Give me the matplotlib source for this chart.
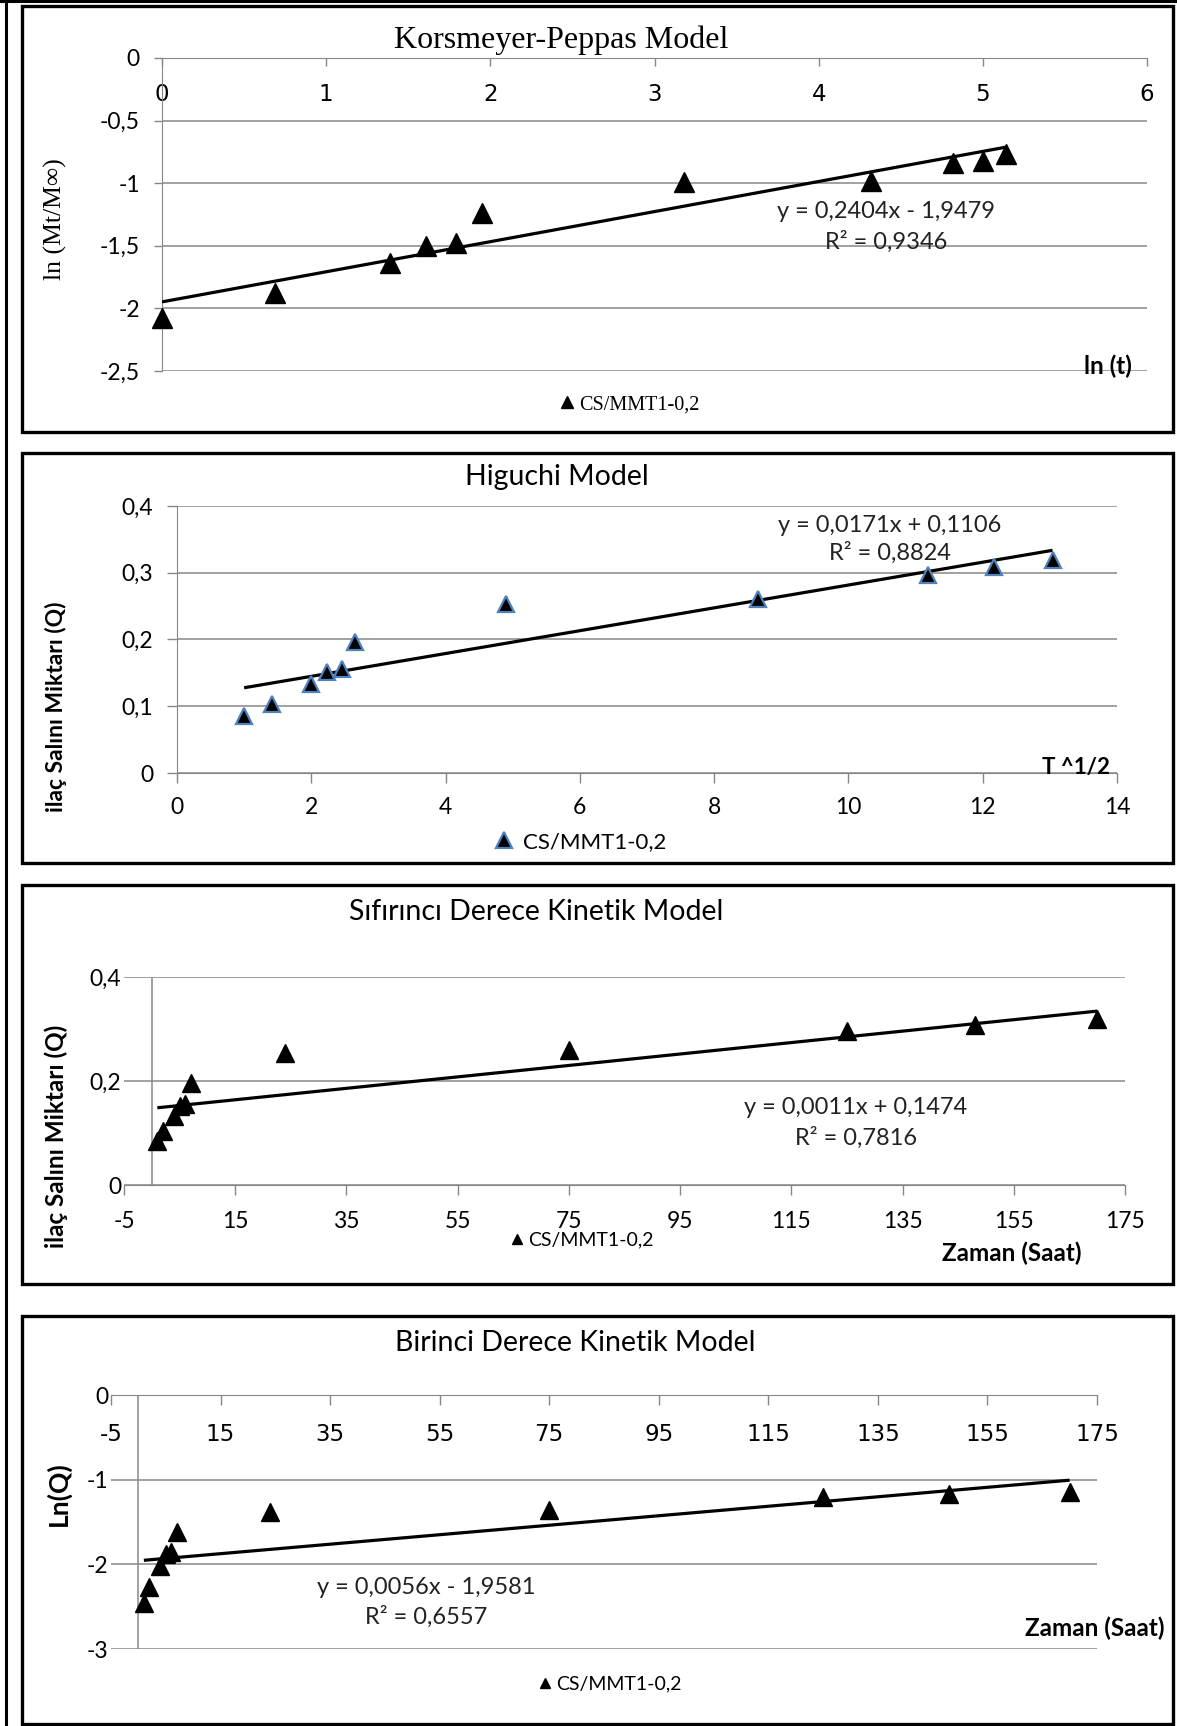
import matplotlib
matplotlib.use("Agg")
import matplotlib.pyplot as plt
from matplotlib.patches import Rectangle
from matplotlib.lines import Line2D

W, H = 1177, 1726

# ---------------- data ----------------
# Korsmeyer-Peppas: ln(t) vs ln(Mt/Minf)
ln_t = [0.0, 0.69, 1.39, 1.61, 1.79, 1.95, 3.18, 4.32, 4.82, 5.0, 5.14]
ln_mt = [-2.08, -1.88, -1.64, -1.50, -1.48, -1.24, -0.99, -0.98, -0.84, -0.82, -0.77]
kp_fit = (0.2404, -1.9479)
kp_xticks = [0, 1, 2, 3, 4, 5, 6]
kp_yticks = [0, -0.5, -1, -1.5, -2, -2.5]
kp_ylabels = ["0", "-0,5", "-1", "-1,5", "-2", "-2,5"]

# Higuchi: t^1/2 vs Q
sqrt_t = [1.0, 1.41, 2.0, 2.24, 2.45, 2.65, 4.9, 8.66, 11.18, 12.17, 13.04]
q_rel = [0.085, 0.103, 0.133, 0.152, 0.156, 0.197, 0.253, 0.260, 0.297, 0.308, 0.319]
hig_fit = (0.0171, 0.1106)
hig_xticks = [0, 2, 4, 6, 8, 10, 12, 14]
hig_yticks = [0, 0.1, 0.2, 0.3, 0.4]
hig_ylabels = ["0", "0,1", "0,2", "0,3", "0,4"]

# zero order: time (h) vs Q
time_h = [1, 2, 4, 5, 6, 7, 24, 75, 125, 148, 170]
zero_fit = (0.0011, 0.1474)
time_ticks = [-5, 15, 35, 55, 75, 95, 115, 135, 155, 175]
zero_yticks = [0, 0.2, 0.4]
zero_ylabels = ["0", "0,2", "0,4"]

# first order: time (h) vs ln(Q)
ln_q = [-2.46, -2.27, -2.02, -1.88, -1.85, -1.62, -1.38, -1.36, -1.21, -1.17, -1.14]
first_fit = (0.0056, -1.9581)
first_yticks = [0, -1, -2, -3]
first_ylabels = ["0", "-1", "-2", "-3"]

SANS = "Lato"
SERIF = "Liberation Serif"
GRID = "#878787"
BLUE = "#4F81BD"
TXT = "#222222"


def rect(x0, x1, ytop, ybot):
    return [x0 / W, 1 - ybot / H, (x1 - x0) / W, (ybot - ytop) / H]


def fx(x):
    return x / W


def fy(y):
    return 1 - y / H


def base_style(ax):
    for s in ax.spines.values():
        s.set_visible(False)
    ax.set_facecolor("none")
    ax.set_axisbelow(True)
    ax.yaxis.grid(True, color=GRID, lw=1.1)
    ax.xaxis.grid(False)
    for lab in ax.get_xticklabels() + ax.get_yticklabels():
        lab.set_fontfamily(SANS)


def trend(ax, xs, fit):
    a, b = fit
    x0, x1 = xs[0], xs[-1]
    ax.plot([x0, x1], [a * x0 + b, a * x1 + b], color="black", lw=2.3,
            solid_capstyle="butt", zorder=4)


def legend(ax, handle, x_px, y_px, size, family, ms_scale, gap=0.25):
    leg = ax.legend([handle], ["CS/MMT1-0,2"], loc="center left",
                    bbox_to_anchor=(fx(x_px), fy(y_px)),
                    bbox_transform=ax.figure.transFigure, frameon=False,
                    borderpad=0, borderaxespad=0, handlelength=0.7,
                    handletextpad=gap, markerscale=ms_scale,
                    prop={"family": family, "size": size})
    return leg


fig = plt.figure(figsize=(W / 100, H / 100), dpi=100)

# outer lines and panel frames
fig.add_artist(Line2D([fx(6), fx(6)], [fy(0), fy(H)], color="black", lw=2.2))
fig.add_artist(Line2D([fx(0), fx(W)], [fy(1.5), fy(1.5)], color="black", lw=2.2))
for top, bot in [(6, 432), (453, 863), (885, 1284), (1316, 1724)]:
    fig.add_artist(Rectangle((fx(22), fy(bot)), (1173 - 22) / W, (bot - top) / H,
                             transform=fig.transFigure, fill=False,
                             edgecolor="black", lw=2.4))

# ---------------- Korsmeyer-Peppas ----------------
ax1 = fig.add_axes(rect(162, 1147, 58, 371))
ax1.set_xlim(0, 6)
ax1.set_ylim(-2.5, 0)
ax1.set_xticks(kp_xticks)
ax1.set_xticklabels([str(v) for v in kp_xticks])
ax1.set_yticks(kp_yticks)
ax1.set_yticklabels(kp_ylabels)
base_style(ax1)
ax1.spines["left"].set_visible(True)
ax1.spines["left"].set_color(GRID)
ax1.spines["bottom"].set_visible(True)
ax1.spines["bottom"].set_color(GRID)
ax1.spines["bottom"].set_position(("data", 0))
ax1.tick_params(axis="x", direction="out", length=6, width=1, color=GRID,
                labelsize=16.5, pad=12)
ax1.tick_params(axis="y", direction="out", length=6, width=1, color=GRID,
                labelsize=16.5, pad=10)
h1, = ax1.plot(ln_t, ln_mt, "^", color="black", ms=14.5, clip_on=False, zorder=5)
trend(ax1, ln_t, kp_fit)
fig.text(fx(561), fy(40), "Korsmeyer-Peppas Model", family=SERIF, size=23,
         ha="center", va="center")
fig.text(fx(55), fy(219), "ln (Mt/M\u221e)", family=SERIF, size=18.5,
         rotation=90, ha="center", va="center")
fig.text(fx(1132), fy(374), "ln (t)", family=SANS, size=17.5, weight="bold",
         ha="right", va="baseline")
fig.text(fx(886), fy(211), "y = 0,2404x - 1,9479", family=SANS, size=17,
         ha="center", va="center", color=TXT)
fig.text(fx(886), fy(242), "R\u00b2 = 0,9346", family=SANS, size=17,
         ha="center", va="center", color=TXT)
legend(ax1, h1, 560, 405, 14.5, SERIF, 0.55)

# ---------------- Higuchi ----------------
ax2 = fig.add_axes(rect(177, 1117, 506, 773))
ax2.set_xlim(0, 14)
ax2.set_ylim(0, 0.4)
ax2.set_xticks(hig_xticks)
ax2.set_xticklabels([str(v) for v in hig_xticks])
ax2.set_yticks(hig_yticks)
ax2.set_yticklabels(hig_ylabels)
base_style(ax2)
for side in ("left", "bottom"):
    ax2.spines[side].set_visible(True)
    ax2.spines[side].set_color(GRID)
ax2.tick_params(axis="x", direction="out", length=7, width=1, color=GRID,
                labelsize=16.5, pad=10)
ax2.tick_params(axis="y", direction="out", length=7, width=1, color=GRID,
                labelsize=16.5, pad=10)
h2, = ax2.plot(sqrt_t, q_rel, "^", color="black", mec=BLUE, mew=1.6, ms=12,
               clip_on=False, zorder=5)
trend(ax2, sqrt_t, hig_fit)
fig.text(fx(557), fy(477), "Higuchi Model", family=SANS, size=20.5,
         ha="center", va="center")
fig.text(fx(56), fy(707), "ila\u00e7 Sal\u0131n\u0131 Miktar\u0131 (Q)", family=SANS,
         size=16.5, weight="bold", rotation=90, ha="center", va="center")
fig.text(fx(1110), fy(774), "T ^1/2", family=SANS, size=16, weight="bold",
         ha="right", va="baseline")
fig.text(fx(890), fy(525), "y = 0,0171x + 0,1106", family=SANS, size=17,
         ha="center", va="center", color=TXT)
fig.text(fx(890), fy(553), "R\u00b2 = 0,8824", family=SANS, size=17,
         ha="center", va="center", color=TXT)
legend(ax2, h2, 496, 842, 16, SANS, 0.95, gap=0.5)

# ---------------- zero order ----------------
ax3 = fig.add_axes(rect(124, 1125, 977, 1185))
ax3.set_xlim(-5, 175)
ax3.set_ylim(0, 0.4)
ax3.set_xticks(time_ticks)
ax3.set_xticklabels([str(v) for v in time_ticks])
ax3.set_yticks(zero_yticks)
ax3.set_yticklabels(zero_ylabels)
base_style(ax3)
ax3.spines["bottom"].set_visible(True)
ax3.spines["bottom"].set_color(GRID)
ax3.axvline(0, color=GRID, lw=1.1, zorder=1)
ax3.tick_params(axis="x", direction="out", length=7, width=1, color=GRID,
                labelsize=16.5, pad=12)
ax3.tick_params(axis="y", length=0, labelsize=16.5, pad=2)
h3, = ax3.plot(time_h, q_rel, "^", color="black", ms=13, clip_on=False, zorder=5)
trend(ax3, time_h, zero_fit)
fig.text(fx(536), fy(912), "S\u0131f\u0131r\u0131nc\u0131 Derece Kinetik Model",
         family=SANS, size=20.5, ha="center", va="center")
fig.text(fx(56), fy(1136), "ila\u00e7 Sal\u0131n\u0131 Miktar\u0131 (Q)", family=SANS,
         size=17.5, weight="bold", rotation=90, ha="center", va="center")
fig.text(fx(1012), fy(1253), "Zaman (Saat)", family=SANS, size=17.5,
         weight="bold", ha="center", va="center")
fig.text(fx(856), fy(1107), "y = 0,0011x + 0,1474", family=SANS, size=17,
         ha="center", va="center", color=TXT)
fig.text(fx(856), fy(1138), "R\u00b2 = 0,7816", family=SANS, size=17,
         ha="center", va="center", color=TXT)
legend(ax3, h3, 510, 1240, 14, SANS, 0.55)

# ---------------- first order ----------------
ax4 = fig.add_axes(rect(111, 1097, 1395, 1649))
ax4.set_xlim(-5, 175)
ax4.set_ylim(-3, 0)
ax4.set_xticks(time_ticks)
ax4.set_xticklabels([str(v) for v in time_ticks])
ax4.set_yticks(first_yticks)
ax4.set_yticklabels(first_ylabels)
base_style(ax4)
ax4.spines["bottom"].set_visible(True)
ax4.spines["bottom"].set_color(GRID)
ax4.spines["bottom"].set_position(("data", 0))
ax4.axvline(0, color=GRID, lw=1.1, zorder=1)
ax4.tick_params(axis="x", direction="out", length=7, width=1, color=GRID,
                labelsize=16.5, pad=13)
ax4.tick_params(axis="y", length=0, labelsize=16.5, pad=2)
h4, = ax4.plot(time_h, ln_q, "^", color="black", ms=13, clip_on=False, zorder=5)
trend(ax4, time_h, first_fit)
fig.text(fx(575), fy(1343), "Birinci Derece Kinetik Model", family=SANS,
         size=20.5, ha="center", va="center")
fig.text(fx(58), fy(1494), "Ln(Q)", family=SANS, size=19, weight="bold",
         rotation=90, ha="center", va="center")
fig.text(fx(1095), fy(1628), "Zaman (Saat)", family=SANS, size=17.5,
         weight="bold", ha="center", va="center")
fig.text(fx(426), fy(1587), "y = 0,0056x - 1,9581", family=SANS, size=17,
         ha="center", va="center", color=TXT)
fig.text(fx(426), fy(1617), "R\u00b2 = 0,6557", family=SANS, size=17,
         ha="center", va="center", color=TXT)
legend(ax4, h4, 538, 1684, 14, SANS, 0.55)

fig.savefig("out.png", dpi=100)
